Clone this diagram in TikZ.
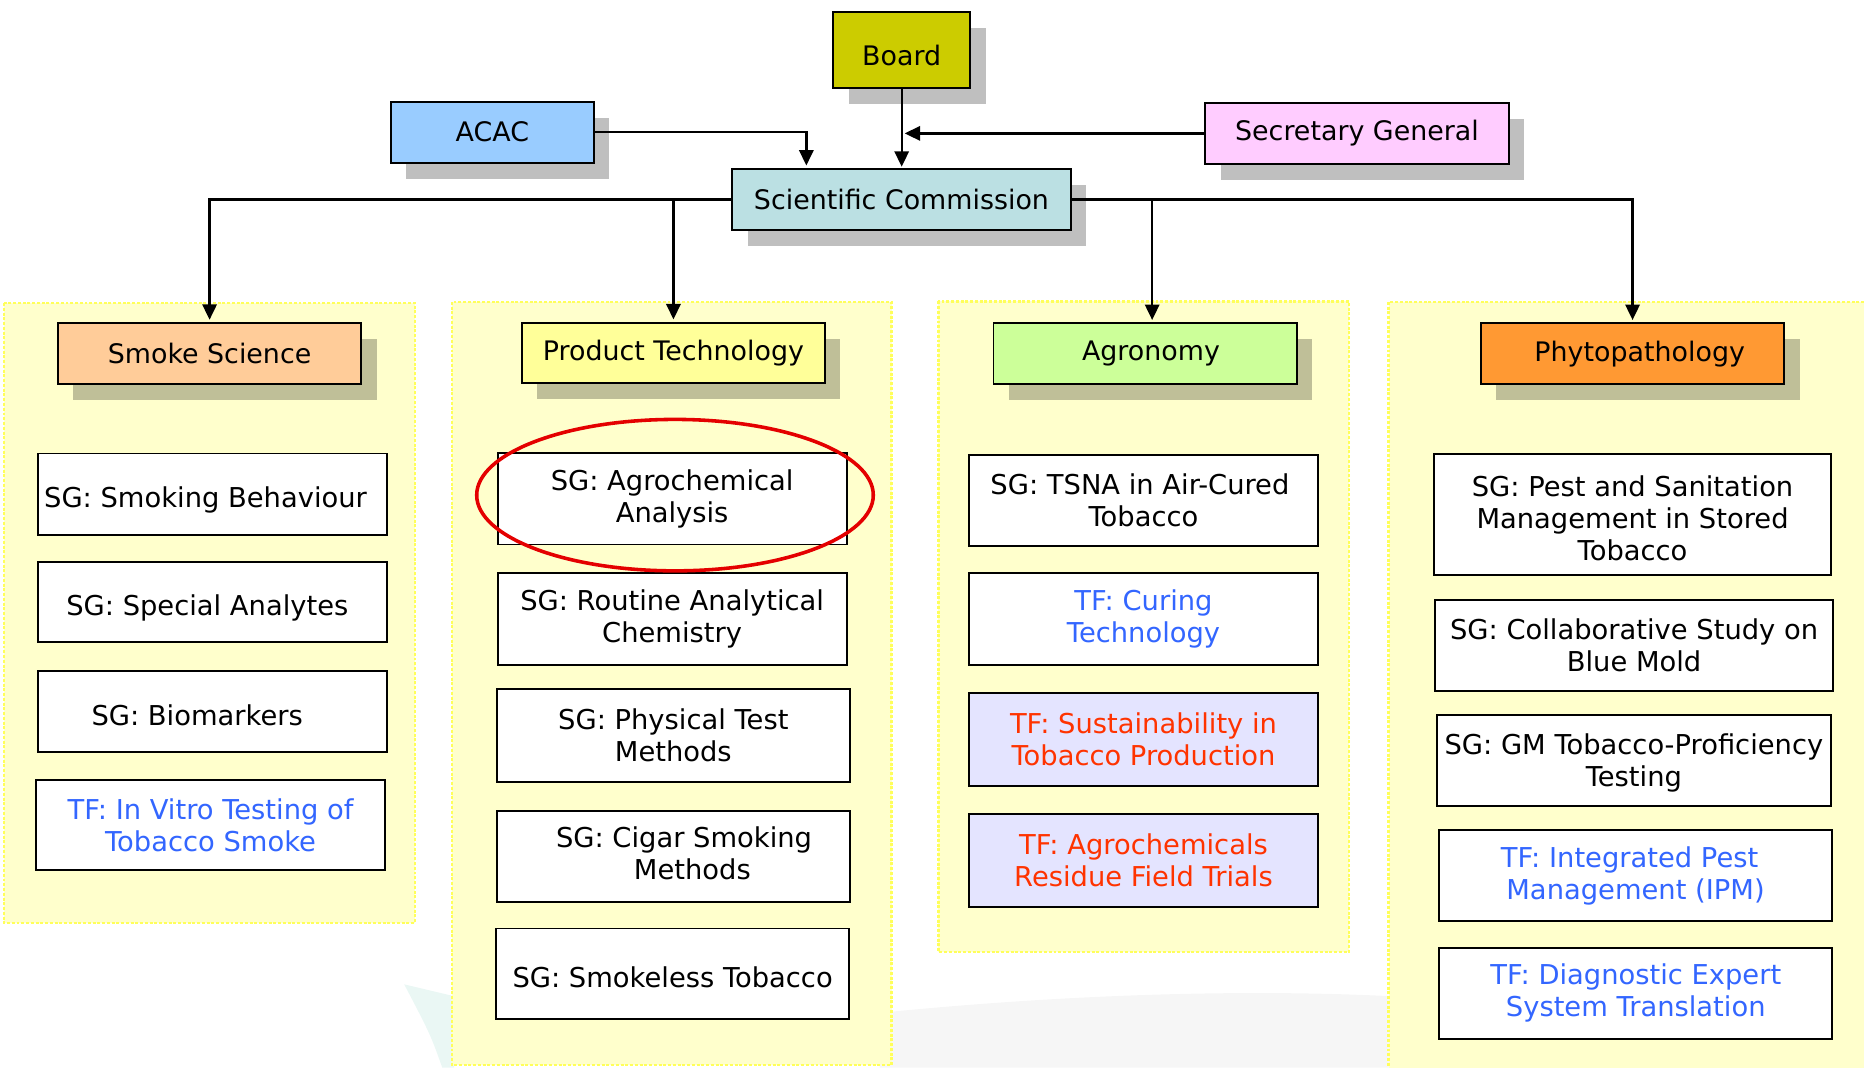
\documentclass[tikz,border=0pt]{standalone}
\usepackage{fontspec}
\setmainfont{DejaVu Sans}
\usetikzlibrary{arrows.meta,shadows,calc}
\definecolor{boardc}{RGB}{204,204,0}
\definecolor{acacc}{RGB}{153,204,255}
\definecolor{secc}{RGB}{255,204,255}
\definecolor{scc}{RGB}{187,224,227}
\definecolor{smokec}{RGB}{255,204,153}
\definecolor{prodc}{RGB}{255,255,153}
\definecolor{agroc}{RGB}{204,255,153}
\definecolor{phytoc}{RGB}{255,153,51}
\definecolor{panelc}{RGB}{255,255,204}
\definecolor{paneldot}{RGB}{255,255,90}
\definecolor{tfblue}{RGB}{51,102,255}
\definecolor{tfred}{RGB}{255,51,0}
\definecolor{lavc}{RGB}{228,228,255}
\definecolor{ringc}{RGB}{228,0,0}
\definecolor{wmteal}{RGB}{234,247,244}
\definecolor{wmgray}{RGB}{246,246,246}
\begin{document}
\begin{tikzpicture}[x=1pt,y=-1pt,
  every node/.style={font=\fontsize{23}{27}\selectfont, inner sep=0pt, align=center},
  bigtext/.style={font=\fontsize{22.6}{27}\selectfont},
  box/.style={draw=black, line width=1.6pt, fill=white},
  shad/.style={drop shadow={shadow xshift=13pt, shadow yshift=-13.5pt, fill=black, opacity=0.25}},
  topbox/.style={box, shad, bigtext},
  hdr/.style={box, shad, bigtext, minimum width=255pt, minimum height=51pt},
  oneline/.style={text height=22.4pt, text depth=0pt},
  sgbox/.style={box},
  tfbox/.style={box, text=tfblue},
  tfrbox/.style={box, fill=lavc, text=tfred},
  arr/.style={line width=2pt, -{Triangle[width=12pt,length=13pt]}},
  panel/.style={fill=panelc, draw=paneldot, line width=2pt, dash pattern=on 2.5pt off 1.5pt},
  ring/.style={draw=ringc, line width=3pt},
]
\useasboundingbox (0,0) rectangle (1568,898);
\clip (0,0) rectangle (1568,898);

% faint watermark
\fill[wmteal] (340,828) -- (382,838) -- (382,898) -- (372,898) .. controls (362,870) .. (340,828) -- cycle;
\fill[wmgray] (740,898) -- (740,852) .. controls (900,836) and (1050,832) .. (1170,838) -- (1170,898) -- cycle;

% panels
\path[panel] (3.4,255) rectangle (349,776.5);
\path[panel] (380,254) rectangle (750,896);
\path[panel] (789.3,253.6) rectangle (1134.8,800.7);
\path[panel] (1168,254) rectangle (1600,930);

% top level
\node[topbox, fill=boardc, minimum width=115pt, minimum height=64pt, text height=27.4pt, text depth=0pt] (board) at (758.5,41.8) {Board};
\node[topbox, fill=acacc, minimum width=171pt, minimum height=51.3pt] (acac) at (414.2,111.2) {ACAC};
\node[topbox, fill=secc, minimum width=255pt, minimum height=51.6pt] (secgen) at (1141.5,112.2) {Secretary General};
\node[topbox, fill=scc, minimum width=284.5pt, minimum height=51.5pt] (sc) at (758.3,167.8) {Scientific Commission};

% headers
\node[hdr, fill=smokec] (ss) at (176.3,297.3) {Smoke Science};
\node[hdr, fill=prodc] (pt) at (566.5,297) {Product Technology};
\node[hdr, fill=agroc] (ag) at (963.2,297.5) {\hspace*{10pt}Agronomy};
\node[hdr, fill=phytoc] (ph) at (1373.3,297.5) {\hspace*{12pt}Phytopathology};

% column 1
\node[sgbox, oneline, minimum width=293.2pt, minimum height=68.3pt] (ss1) at (178.9,415.6) {\hspace*{-12pt}SG: Smoking Behaviour};
\node[sgbox, oneline, minimum width=293.2pt, minimum height=68pt] (ss2) at (178.9,506.4) {\hspace*{-9pt}SG: Special Analytes};
\node[sgbox, oneline, minimum width=293.2pt, minimum height=68pt] (ss3) at (178.9,598.8) {\hspace*{-26pt}SG: Biomarkers};
\node[tfbox, minimum width=293.6pt, minimum height=76.1pt] (ss4) at (177.1,693.9) {TF: In Vitro Testing of\\Tobacco Smoke};

% column 2
\node[sgbox, minimum width=293.6pt, minimum height=76.7pt] (pt1) at (565.4,419.7) {SG: Agrochemical\\Analysis};
\node[sgbox, minimum width=293.6pt, minimum height=77.6pt] (pt2) at (565.4,520.8) {SG: Routine Analytical\\Chemistry};
\node[sgbox, minimum width=297.2pt, minimum height=77.5pt] (pt3) at (566.4,618.7) {SG: Physical Test\\Methods};
\node[sgbox, minimum width=297.2pt, minimum height=76.5pt] (pt4) at (566.4,720.8) {\hspace*{18pt}\begin{tabular}{@{}c@{}}SG: Cigar Smoking\\\hspace*{14pt}Methods\end{tabular}};
\node[sgbox, oneline, minimum width=297.2pt, minimum height=76.4pt] (pt5) at (565.8,819.2) {SG: Smokeless Tobacco};
\draw[ring] (567.8,416.5) ellipse [x radius=166.8pt, y radius=63.7pt];

% column 3
\node[sgbox, minimum width=293pt, minimum height=76.3pt] (ag1) at (961.9,420.9) {\hspace*{-6pt}SG: TSNA in Air-Cured\\Tobacco};
\node[tfbox, minimum width=293pt, minimum height=77.3pt] (ag2) at (961.9,521) {TF: Curing\\Technology};
\node[tfrbox, minimum width=293pt, minimum height=78pt] (ag3) at (961.9,622) {TF: Sustainability in\\Tobacco Production};
\node[tfrbox, minimum width=293pt, minimum height=78pt] (ag4) at (961.9,724) {TF: Agrochemicals\\Residue Field Trials};

% column 4
\node[sgbox, minimum width=333.4pt, minimum height=101.9pt] (ph1) at (1373.3,432.8) {\rule{0pt}{24.4pt}SG: Pest and Sanitation\\Management in Stored\\Tobacco};
\node[sgbox, minimum width=335.3pt, minimum height=76.5pt] (ph2) at (1374.6,542.8) {SG: Collaborative Study on\\Blue Mold};
\node[sgbox, minimum width=331.2pt, minimum height=77.2pt] (ph3) at (1374.4,639.7) {\rule{0pt}{21pt}SG: GM Tobacco-Proficiency\\Testing};
\node[tfbox, minimum width=331.1pt, minimum height=76.5pt] (ph4) at (1375.8,736.8) {\hspace*{-10pt}TF: Integrated Pest\\Management (IPM)};
\node[tfbox, minimum width=330.5pt, minimum height=76.5pt] (ph5) at (1376,835.5) {TF: Diagnostic Expert\\System Translation};

% connectors at the top
\coordinate (scA) at ([xshift=-80pt]sc.north);
\draw[arr, shorten >=2pt] (acac.east) -| (scA);
\draw[arr, shorten >=1pt] (board.south) -- (board.south |- sc.north);
\draw[arr] (secgen.west) -- ([xshift=2.5pt]board.south |- secgen.west);

% connectors to the four fields
\coordinate (agIn) at ([xshift=6pt]ag.north);
\draw[arr, shorten >=2pt] (sc.west) -| (ss.north);
\draw[arr, shorten >=2pt] (sc.west -| pt.north) -- (pt.north);
\draw[arr, shorten >=2pt] (sc.east) -| (ph.north);
\draw[arr, shorten >=2pt] (sc.east -| agIn) -- (agIn);
\end{tikzpicture}
\end{document}
